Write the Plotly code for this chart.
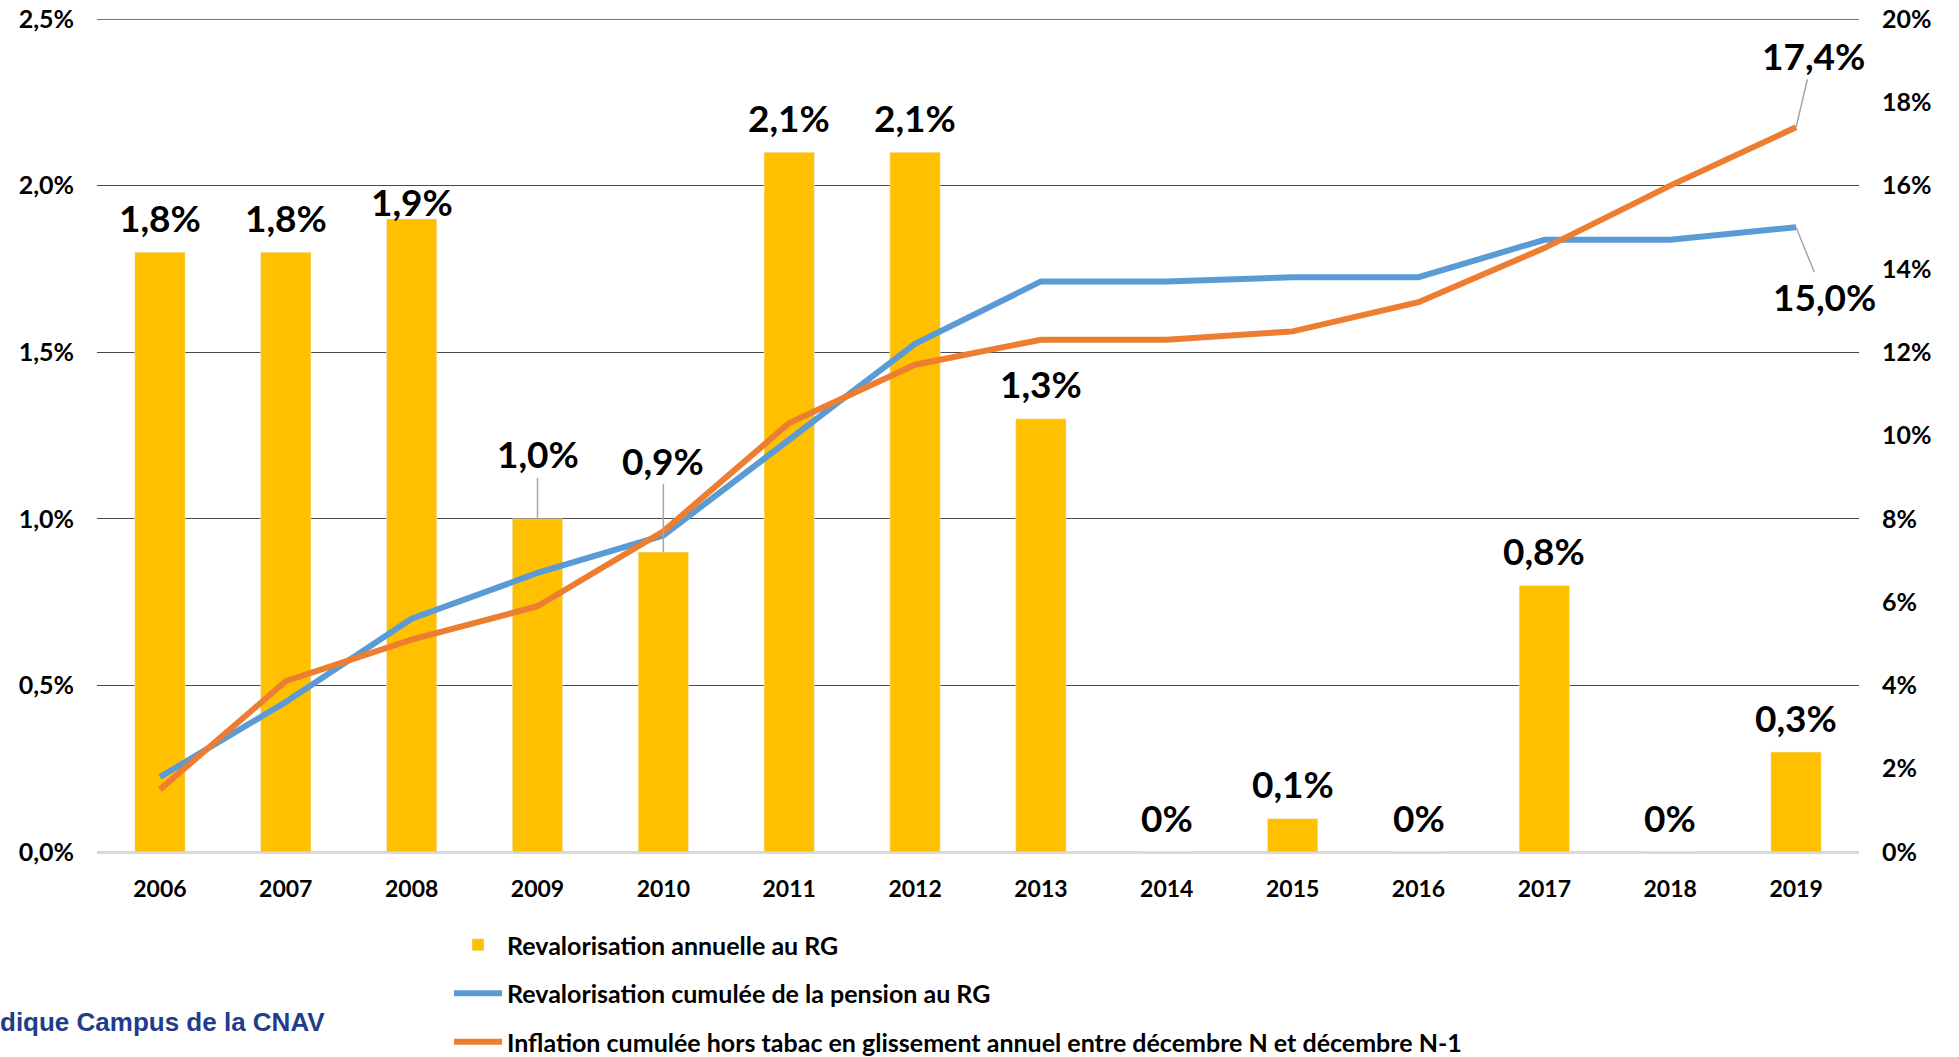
import plotly.graph_objects as go

# ---- data ----
years = ["2006", "2007", "2008", "2009", "2010", "2011", "2012",
         "2013", "2014", "2015", "2016", "2017", "2018", "2019"]
reval_annuelle = [1.8, 1.8, 1.9, 1.0, 0.9, 2.1, 2.1, 1.3, 0.0, 0.1, 0.0, 0.8, 0.0, 0.3]
reval_cumulee = [1.8, 3.6, 5.6, 6.7, 7.6, 9.9, 12.2, 13.7, 13.7, 13.8, 13.8, 14.7, 14.7, 15.0]
inflation_cumulee = [1.5, 4.1, 5.1, 5.9, 7.7, 10.3, 11.7, 12.3, 12.3, 12.5, 13.2, 14.5, 16.0, 17.4]

name_bar = "Revalorisation annuelle au RG"
name_blue = "Revalorisation cumulée de la pension au RG"
name_orange = "Inflation cumulée hors tabac en glissement annuel entre décembre N et décembre N-1"
source_text = "dique Campus de la CNAV"

# ---- styles ----
C_BAR = "#FFC000"
C_BLUE = "#5B9BD5"
C_ORANGE = "#ED7D31"
C_GRID = "#4a4a4a"
FONT = "Lato"

W, H = 1959, 1057
ML, MR, MT, MB = 97, 100, 19, 205

label_shift_default = 35
label_shift_special = {"2008": 17}
label_leader = {"2009": 65, "2010": 92}

Y_MAX = 2.5
Y2_MAX = 20


def fmt(v, dec=1):
    if v == 0:
        return "0%"
    return f"{v:.{dec}f}".replace(".", ",") + "%"


def bfont(size, family=FONT, color="#000000"):
    return dict(family=family, size=size, color=color, weight="bold")


fig = go.Figure()
fig.add_trace(go.Bar(x=years, y=reval_annuelle, name=name_bar, marker_color=C_BAR,
                     yaxis="y", legendgroup="a", hoverinfo="skip"))
fig.add_trace(go.Scatter(x=years, y=reval_cumulee, name=name_blue, mode="lines",
                         line=dict(color=C_BLUE, width=6), yaxis="y2", legendgroup="b"))
fig.add_trace(go.Scatter(x=years, y=inflation_cumulee, name=name_orange, mode="lines",
                         line=dict(color=C_ORANGE, width=6), yaxis="y2", legendgroup="c"))

annotations = []
for i, (yr, v) in enumerate(zip(years, reval_annuelle)):
    txt = fmt(v)
    if yr in label_leader:
        annotations.append(dict(x=i, y=v, xref="x", yref="y", text=txt, showarrow=True,
                                arrowhead=0, arrowwidth=1.5, arrowcolor="#A6A6A6",
                                ax=0, ay=-label_leader[yr], font=bfont(37)))
    else:
        annotations.append(dict(x=i, y=v, xref="x", yref="y", text=txt, showarrow=False,
                                yanchor="middle",
                                yshift=label_shift_special.get(yr, label_shift_default),
                                font=bfont(37)))

last = len(years) - 1
annotations.append(dict(x=last, y=inflation_cumulee[-1], xref="x", yref="y2",
                        text=fmt(inflation_cumulee[-1]), showarrow=True, arrowhead=0,
                        arrowwidth=1.5, arrowcolor="#A6A6A6", ax=17, ay=-72,
                        font=bfont(37)))
annotations.append(dict(x=last, y=reval_cumulee[-1], xref="x", yref="y2",
                        text=fmt(reval_cumulee[-1]), showarrow=True, arrowhead=0,
                        arrowwidth=1.5, arrowcolor="#A6A6A6", ax=28, ay=69,
                        font=bfont(37)))

plot_w = W - ML - MR
plot_h = H - MT - MB
annotations.append(dict(x=(327 - ML) / plot_w, y=(H - MB - 1022) / plot_h,
                        xref="paper", yref="paper", xanchor="right", yanchor="middle",
                        text=source_text, showarrow=False,
                        font=bfont(26, family="Liberation Sans", color="#1F3D8C")))

fig.update_layout(
    width=W, height=H,
    margin=dict(l=ML, r=MR, t=MT, b=MB, autoexpand=False),
    paper_bgcolor="white", plot_bgcolor="white",
    separators=", ",
    bargap=0.6,
    showlegend=True,
    legend=dict(orientation="v", x=449 / W, xanchor="left", xref="container",
                y=1 - 922 / H, yanchor="top", yref="container",
                font=bfont(25),
                tracegroupgap=13, traceorder="grouped", itemwidth=48,
                bgcolor="rgba(0,0,0,0)"),
    font=dict(family=FONT, color="#000000"),
    annotations=annotations,
    shapes=[dict(type="line", xref="paper", x0=0, x1=1, yref="y", y0=Y_MAX, y1=Y_MAX,
                 line=dict(color=C_GRID, width=1.3), layer="below")],
    xaxis=dict(type="category", range=[-0.5, len(years) - 0.5], showgrid=False,
               showline=True, linecolor="#D9D9D9",
               linewidth=2, ticks="", ticklabelstandoff=15,
               tickfont=bfont(23)),
    yaxis=dict(range=[0, Y_MAX], dtick=0.5, tickformat=".1f", ticksuffix="%",
               showgrid=True, gridcolor=C_GRID, gridwidth=1.3,
               zeroline=True, zerolinecolor="#D9D9D9", zerolinewidth=2,
               showline=False, ticks="", ticklabelstandoff=22,
               ticklabeloverflow="allow", tickfont=bfont(25)),
    yaxis2=dict(range=[0, Y2_MAX], dtick=2, tickformat="d", ticksuffix="%",
                overlaying="y", side="right", showgrid=False, zeroline=False,
                showline=False, ticks="", ticklabelstandoff=22,
                ticklabeloverflow="allow", tickfont=bfont(25)),
)

fig.write_html("out.html", config={"displayModeBar": False},
               post_script="document.body.style.margin='0';document.body.style.overflow='hidden';")
